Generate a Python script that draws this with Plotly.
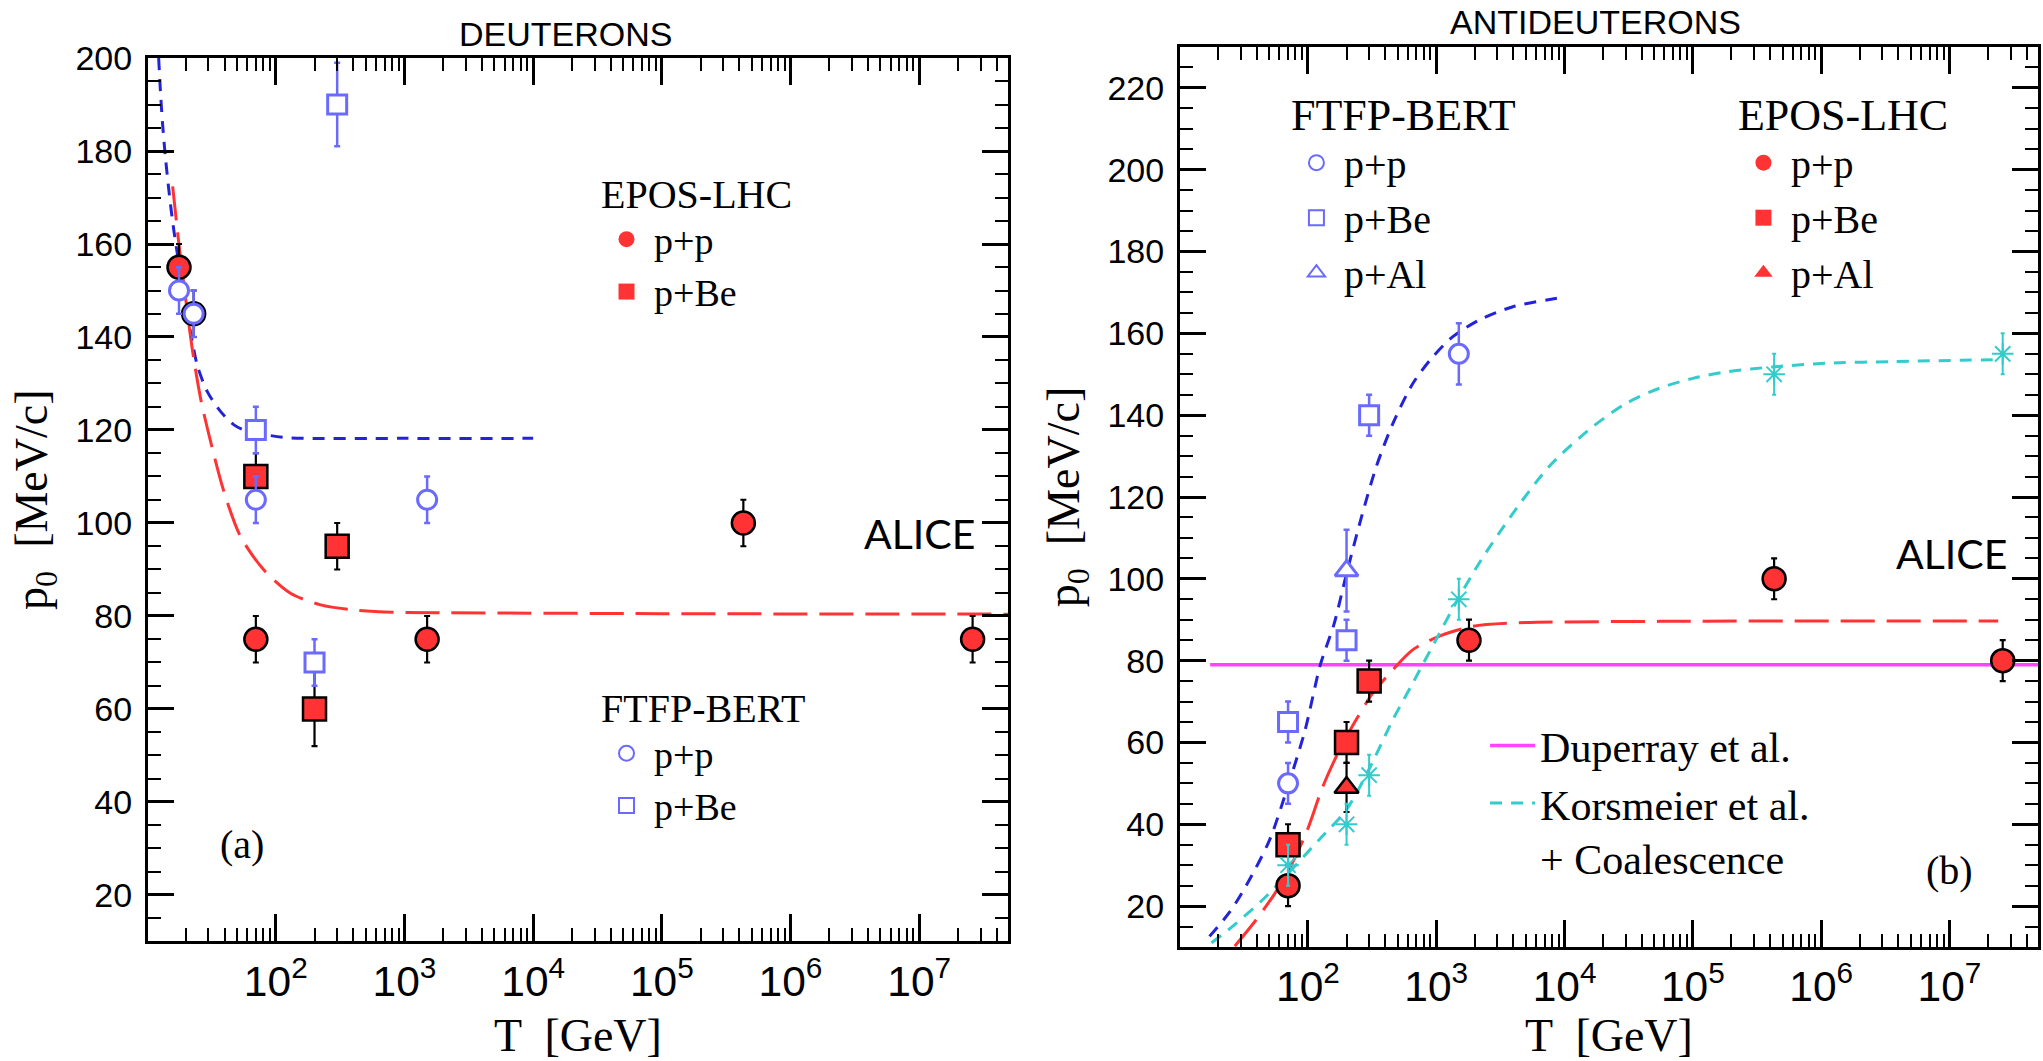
import plotly.graph_objects as go

# ---------------- Panel (a): DEUTERONS ----------------
d_epos_pp_T = [17.7, 23, 70, 1500, 4.3e5, 2.6e7]
d_epos_pp_p0 = [155, 145, 75, 75, 100, 75]
d_epos_pp_err = [5, 5, 5, 5, 5, 5]

d_epos_pBe_T = [70, 200, 300]
d_epos_pBe_p0 = [110, 60, 95]
d_epos_pBe_err = [5, 8, 5]

d_ftfp_pp_T = [17.7, 23, 70, 1500]
d_ftfp_pp_p0 = [150, 145, 105, 105]
d_ftfp_pp_err = [5, 5, 5, 5]

d_ftfp_pBe_T = [70, 200, 300]
d_ftfp_pBe_p0 = [120, 70, 190]
d_ftfp_pBe_err = [5, 5, 9]

d_ftfp_fit_T = [12.3, 12.7, 13.2, 13.9, 14.8, 15.9, 17.7, 19.3, 21.7, 24.5, 29.3,
                37.2, 47.3, 60, 86, 130, 1000, 1e4]
d_ftfp_fit_p0 = [200, 192.8, 185.7, 178.5, 171.3, 164.2, 155.5, 148.4, 141.2, 134.0,
                 128.3, 124.0, 121.1, 119.7, 118.9, 118.3, 118.2, 118.2]

d_epos_fit_T = [15.8, 17.7, 19.9, 22.4, 26.0, 31.1, 39.5, 53.2, 80.9, 130, 223, 406,
                832, 2160, 1e5, 5e7]
d_epos_fit_p0 = [172.4, 159.8, 148.4, 137.6, 126.9, 117.6, 106.8, 97.1, 89.9, 84.9,
                 82.4, 81.3, 80.8, 80.7, 80.5, 80.4]

# ---------------- Panel (b): ANTIDEUTERONS ----------------
a_ftfp_pp_T = [70, 1500]
a_ftfp_pp_p0 = [50, 155]
a_ftfp_pp_err = [5, 7.5]

a_ftfp_pBe_T = [70, 200, 300]
a_ftfp_pBe_p0 = [65, 85, 140]
a_ftfp_pBe_err = [5, 5, 5]

a_ftfp_pAl_T = [200]
a_ftfp_pAl_p0 = [102]
a_ftfp_pAl_err = [10]

a_epos_pp_T = [70, 1800, 4.3e5, 2.6e7]
a_epos_pp_p0 = [25, 85, 100, 80]
a_epos_pp_err = [5, 5, 5, 5]

a_epos_pBe_T = [70, 200, 300]
a_epos_pBe_p0 = [35, 60, 75]
a_epos_pBe_err = [5, 5, 5]

a_epos_pAl_T = [200]
a_epos_pAl_p0 = [49]
a_epos_pAl_err = [6]

a_korsm_T = [70, 200, 300, 1500, 4.3e5, 2.6e7]
a_korsm_p0 = [30, 40, 52, 95, 150, 155]
a_korsm_err = [5, 5, 5, 5, 5, 5]

a_duperray_T = [17.3, 5e7]
a_duperray_p0 = [79, 79]

a_ftfp_fit_T = [17.1, 24.5, 33, 50, 71, 95, 125, 160, 199, 261, 341, 460, 659, 943,
                1349, 2178, 3960, 9700]
a_ftfp_fit_p0 = [12.6, 18.5, 25, 36, 50, 63, 79, 89, 101, 115, 127.4, 138, 147.8,
                 154.3, 159.2, 163.3, 166.5, 168.8]

a_epos_fit_T = [26.9, 39.6, 55, 70, 97, 131, 177, 238, 321, 460, 659, 1062, 1932,
                3960, 55000, 2.4e7]
a_epos_fit_p0 = [10.2, 16.7, 23, 28.5, 37.9, 49.3, 58.3, 65.6, 72.1, 77.8, 82.7,
                 86.0, 88.4, 89.2, 89.6, 89.7]

a_korsm_fit_T = [17.7, 26, 44.6, 70, 123, 199, 300, 460, 659, 1000, 1476, 2178, 3960,
                 7650, 16630, 30300, 55100, 1e5, 1.82e5, 4.2e5, 1.1e6, 3.6e6, 2.5e7]
a_korsm_fit_p0 = [11.0, 15.1, 21.6, 28, 36.3, 43.5, 53.5, 65.6, 74.6, 85.2, 95.0, 104,
                  116, 127.6, 137.2, 142.9, 146.6, 149.0, 150.6, 151.8, 152.7, 153.1,
                  153.6]

# ---------------- styles ----------------
RED = "#ff3333"
BLUE_MK = "#6a6aff"
BLUE_LN = "#2323d8"
CYAN = "#33cccc"
MAGENTA = "#ff44ff"
SERIF = "Liberation Serif, Times New Roman, serif"
SANS = "Liberation Sans, Arial, sans-serif"

fig = go.Figure()


def line(T, p, color, dash, width, xa, ya, name=None, legend=None, showlegend=False):
    fig.add_trace(go.Scatter(
        x=T, y=p, mode="lines", line=dict(color=color, dash=dash, width=width,
                                           shape="spline", smoothing=0.8),
        xaxis=xa, yaxis=ya, name=name, legend=legend, showlegend=showlegend,
        hoverinfo="skip"))


def epos(T, p, err, symbol, size, xa, ya):
    fig.add_trace(go.Scatter(
        x=T, y=p, mode="markers",
        marker=dict(symbol=symbol, size=size, color=RED,
                    line=dict(color="black", width=2.5)),
        error_y=dict(type="data", array=err, color="black", thickness=2.2, width=3),
        xaxis=xa, yaxis=ya, showlegend=False))


def ftfp(T, p, err, symbol, size, xa, ya):
    fig.add_trace(go.Scatter(
        x=T, y=p, mode="markers",
        marker=dict(symbol=symbol, size=size, color="white",
                    line=dict(color=BLUE_MK, width=3)),
        error_y=dict(type="data", array=err, color=BLUE_MK, thickness=2.5, width=3),
        xaxis=xa, yaxis=ya, showlegend=False))


def key(name, symbol, color, legend, filled=True):
    mk = dict(symbol=symbol, size=16, color=color) if filled else \
        dict(symbol=symbol, size=15, color="white", line=dict(color=color, width=2))
    fig.add_trace(go.Scatter(x=[None], y=[None], mode="markers", marker=mk,
                             name=name, legend=legend, showlegend=True,
                             xaxis="x", yaxis="y"))


# ---- panel (a) ----
line(d_ftfp_fit_T, d_ftfp_fit_p0, BLUE_LN, "12px,9px", 3, "x", "y")
line(d_epos_fit_T, d_epos_fit_p0, RED, "34px,12px", 3, "x", "y")
epos(d_epos_pp_T, d_epos_pp_p0, d_epos_pp_err, "circle", 23, "x", "y")
epos(d_epos_pBe_T, d_epos_pBe_p0, d_epos_pBe_err, "square", 23, "x", "y")
ftfp(d_ftfp_pp_T, d_ftfp_pp_p0, d_ftfp_pp_err, "circle", 19, "x", "y")
ftfp(d_ftfp_pBe_T, d_ftfp_pBe_p0, d_ftfp_pBe_err, "square", 19, "x", "y")

# ---- panel (b) ----
line(a_duperray_T, a_duperray_p0, MAGENTA, "solid", 3.5, "x2", "y2",
     name="Duperray et al.", legend="legend5", showlegend=True)
line(a_ftfp_fit_T, a_ftfp_fit_p0, BLUE_LN, "12px,9px", 3, "x2", "y2")
line(a_epos_fit_T, a_epos_fit_p0, RED, "34px,12px", 3, "x2", "y2")
line(a_korsm_fit_T, a_korsm_fit_p0, CYAN, "12px,9px", 3, "x2", "y2",
     name="Korsmeier et al.<br>+ Coalescence", legend="legend5", showlegend=True)
epos(a_epos_pp_T, a_epos_pp_p0, a_epos_pp_err, "circle", 23, "x2", "y2")
epos(a_epos_pBe_T, a_epos_pBe_p0, a_epos_pBe_err, "square", 23, "x2", "y2")
epos(a_epos_pAl_T, a_epos_pAl_p0, a_epos_pAl_err, "triangle-up", 21, "x2", "y2")
fig.add_trace(go.Scatter(
    x=a_korsm_T, y=a_korsm_p0, mode="markers",
    marker=dict(symbol="asterisk-open", size=18, color=CYAN, line=dict(color=CYAN, width=2)),
    error_y=dict(type="data", array=a_korsm_err, color=CYAN, thickness=2, width=2),
    xaxis="x2", yaxis="y2", showlegend=False))
ftfp(a_ftfp_pp_T, a_ftfp_pp_p0, a_ftfp_pp_err, "circle", 19, "x2", "y2")
ftfp(a_ftfp_pBe_T, a_ftfp_pBe_p0, a_ftfp_pBe_err, "square", 19, "x2", "y2")
ftfp(a_ftfp_pAl_T, a_ftfp_pAl_p0, a_ftfp_pAl_err, "triangle-up", 20, "x2", "y2")

# ---- legend keys ----
key("p+p", "circle", RED, "legend")
key("p+Be", "square", RED, "legend")
key("p+p", "circle", BLUE_MK, "legend2", filled=False)
key("p+Be", "square", BLUE_MK, "legend2", filled=False)
key("p+p", "circle", BLUE_MK, "legend3", filled=False)
key("p+Be", "square", BLUE_MK, "legend3", filled=False)
key("p+Al", "triangle-up", BLUE_MK, "legend3", filled=False)
key("p+p", "circle", RED, "legend4")
key("p+Be", "square", RED, "legend4")
key("p+Al", "triangle-up", RED, "legend4")

# ---------------- axes ----------------
tickfont = dict(family=SANS, size=34, color="black")
xcommon = dict(type="log", showline=True, linecolor="black", linewidth=3, mirror="ticks",
               ticks="inside", ticklen=27, tickwidth=2.5, tickcolor="black",
               showgrid=False, zeroline=False, dtick=1, exponentformat="power",
               tickfont=tickfont, ticklabelstandoff=2,
               minor=dict(ticks="inside", ticklen=13, tickwidth=2, tickcolor="black",
                          dtick="D1", showgrid=False),
               title=dict(text="T  [GeV]", font=dict(family=SERIF, size=46, color="black"),
                          standoff=16))
ycommon = dict(showline=True, linecolor="black", linewidth=3, mirror="ticks",
               ticks="inside", ticklen=26, tickwidth=2.5, tickcolor="black",
               showgrid=False, zeroline=False, tick0=0, dtick=20,
               tickfont=tickfont, ticklabelstandoff=6,
               minor=dict(ticks="inside", ticklen=13, tickwidth=2, tickcolor="black",
                          dtick=5, showgrid=False),
               title=dict(text="p<sub>0</sub>  [MeV/c]",
                          font=dict(family=SERIF, size=46, color="black"), standoff=14))

fig.update_layout(
    width=2043, height=1061,
    margin=dict(l=0, r=0, t=0, b=0, pad=0, autoexpand=False),
    paper_bgcolor="white", plot_bgcolor="white",
    xaxis=dict(xcommon, domain=[0.07244, 0.49339], range=[1.007, 7.69], anchor="y"),
    yaxis=dict(ycommon, domain=[0.11264, 0.94533], range=[10, 200], anchor="x"),
    xaxis2=dict(xcommon, domain=[0.57758, 0.99755], range=[1.003, 7.69], anchor="y2"),
    yaxis2=dict(ycommon, domain=[0.10745, 0.9557], range=[10, 230], anchor="x2"),
)

leg_common = dict(bgcolor="rgba(0,0,0,0)", borderwidth=0, xanchor="left", yanchor="top",
                  itemclick=False, itemdoubleclick=False, itemwidth=45)
fig.update_layout(
    legend=dict(leg_common, x=0.2932, y=0.853,
                title=dict(text="EPOS-LHC", font=dict(family=SERIF, size=40, color="black")),
                font=dict(family=SERIF, size=38, color="black")),
    legend2=dict(leg_common, x=0.2932, y=0.3685,
                 title=dict(text="FTFP-BERT", font=dict(family=SERIF, size=40, color="black")),
                 font=dict(family=SERIF, size=38, color="black")),
    legend3=dict(leg_common, x=0.6309, y=0.9312,
                 title=dict(text="FTFP-BERT", font=dict(family=SERIF, size=44, color="black")),
                 font=dict(family=SERIF, size=40, color="black")),
    legend4=dict(leg_common, x=0.8497, y=0.9312,
                 title=dict(text="EPOS-LHC", font=dict(family=SERIF, size=44, color="black")),
                 font=dict(family=SERIF, size=40, color="black")),
    legend5=dict(leg_common, x=0.7269, y=0.3292, valign="top",
                 font=dict(family=SERIF, size=42, color="black")),
)

ann = [
    dict(text="DEUTERONS", x=0.2770, y=0.968, font=dict(family=SANS, size=34)),
    dict(text="ANTIDEUTERONS", x=0.7812, y=0.9788, font=dict(family=SANS, size=34)),
    dict(text="ALICE", x=0.4503, y=0.4976, font=dict(family="Lato", size=41)),
    dict(text="ALICE", x=0.9553, y=0.4785, font=dict(family="Lato", size=41)),
    dict(text="(a)", x=0.1185, y=0.2036, font=dict(family=SERIF, size=40)),
    dict(text="(b)", x=0.9542, y=0.18, font=dict(family=SERIF, size=40)),
]
for a in ann:
    a["font"]["color"] = "black"
    fig.add_annotation(xref="paper", yref="paper", showarrow=False,
                       xanchor="center", yanchor="middle", **a)

fig.write_html("out.html")
